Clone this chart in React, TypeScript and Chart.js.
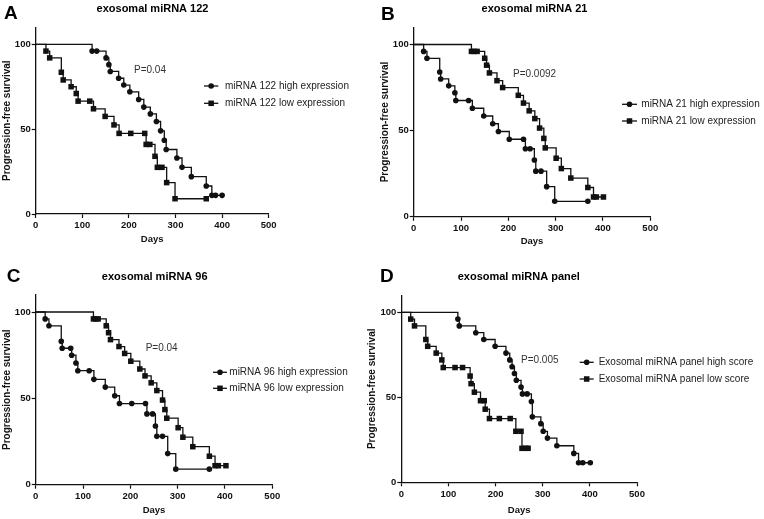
import React, { useEffect, useRef } from "react";
import { Chart, registerables } from "chart.js";

Chart.register(...registerables);

const FONT = '"Liberation Sans", Arial, Helvetica, sans-serif';
Chart.defaults.font.family = FONT;

// ---------- axis ticks ----------
const X_TICKS = [0, 100, 200, 300, 400, 500];
const Y_TICKS = [0, 50, 100];

// ---------- Panel A: exosomal miRNA 122 ----------
const aHighDays = [0, 121, 131, 151, 157, 160, 178, 189, 202, 221, 232, 246, 259, 268, 276, 280, 303, 314, 334, 366, 378, 386, 400];
const aHighSurv = [100, 96, 96, 92, 88, 84, 80, 76, 72, 67.5, 63, 59, 54.5, 49, 43.5, 38, 33, 27.5, 22, 16.5, 11, 11, 11];
const aLowDays = [0, 22, 30, 55, 59, 76, 87, 91, 116, 124, 149, 168, 179, 204, 234, 237, 245, 256, 261, 271, 281, 299, 366];
const aLowSurv = [100, 96, 92, 83.5, 79, 75, 71, 66.5, 66.5, 62, 57.5, 52.5, 47.5, 47.5, 47.5, 41, 41, 34, 27.5, 27.5, 18.5, 9, 9];

// ---------- Panel B: exosomal miRNA 21 ----------
const bHighDays = [0, 21, 28, 55, 57, 74, 87, 89, 116, 124, 148, 167, 179, 202, 232, 236, 246, 255, 258, 269, 281, 298, 368];
const bHighSurv = [100, 96, 92, 84, 80, 76, 72, 67.5, 67.5, 63, 58.5, 54, 49.5, 45, 45, 39.5, 39.5, 33, 26.5, 26.5, 17.5, 9, 9];
const bLowDays = [0, 122, 128, 134, 150, 154, 160, 176, 188, 221, 232, 244, 256, 266, 275, 278, 301, 312, 332, 368, 380, 386, 401];
const bLowSurv = [100, 96, 96, 96, 92, 88, 83.5, 79, 75, 70.5, 66, 61.5, 57, 51.5, 45.5, 40, 34, 28, 22.5, 17, 11.5, 11.5, 11.5];

// ---------- Panel C: exosomal miRNA 96 ----------
const cHighDays = [0, 20, 28, 54, 56, 74, 76, 85, 89, 113, 123, 147, 167, 177, 203, 232, 235, 247, 253, 256, 268, 279, 296, 367];
const cHighSurv = [100, 96, 92, 83, 79, 79, 75, 70.5, 66, 66, 61, 56.5, 51.5, 47, 47, 47, 41, 41, 34, 28, 28, 18, 9, 9];
const cLowDays = [0, 122, 127, 132, 149, 154, 158, 176, 188, 201, 220, 231, 244, 256, 268, 273, 277, 301, 311, 332, 367, 379, 386, 402];
const cLowSurv = [100, 96, 96, 96, 92, 88, 84, 80, 76, 71.5, 67, 63, 59, 54.5, 49, 43.5, 38.5, 33, 27.5, 22, 16.5, 11, 11, 11];

// ---------- Panel D: exosomal miRNA panel ----------
const dHighDays = [0, 120, 123, 158, 175, 199, 222, 230, 235, 240, 244, 254, 257, 267, 276, 278, 296, 301, 310, 330, 366, 376, 385, 401];
const dHighSurv = [100, 96, 92, 88, 84, 80, 76, 72, 68, 64, 60, 56, 52, 52, 47.5, 38.5, 34.5, 30, 26, 21.5, 17, 11.5, 11.5, 11.5];
const dLowDays = [0, 20, 28, 52, 56, 74, 86, 89, 114, 130, 146, 148, 155, 168, 176, 178, 187, 208, 231, 243, 254, 256, 264, 269];
const dLowSurv = [100, 96, 92, 84, 80, 76, 72, 67.5, 67.5, 67.5, 62.5, 58, 53, 48, 48, 43, 37.5, 37.5, 37.5, 30, 30, 20, 20, 20];

type Series = { label: string; days: number[]; surv: number[]; marker: "circle" | "rect" };

type Panel = {
  letter: string;
  title: string;
  pText: string;
  series: Series[];
  box: { l: number; t: number; w: number; h: number };
  plot: { x0: number; x1: number; y100: number; y0: number };
  yTitleX: number;
  xTitleY: number;
  letterPos: { x: number; base: number };
  titlePos: { cx: number; base: number };
  pPos: { x: number; cy: number };
  legend: { lx0: number; lx1: number; tx: number; rows: number[] };
};

const PANELS: Panel[] = [
  {
    letter: "A",
    title: "exosomal miRNA 122",
    pText: "P=0.04",
    series: [
      { label: "miRNA 122 high expression", days: aHighDays, surv: aHighSurv, marker: "circle" },
      { label: "miRNA 122 low expression", days: aLowDays, surv: aLowSurv, marker: "rect" },
    ],
    box: { l: 0, t: 0, w: 382, h: 259 },
    plot: { x0: 35.7, x1: 268.7, y100: 44.3, y0: 214 },
    yTitleX: 7.5,
    xTitleY: 239,
    letterPos: { x: 4, base: 19.3 },
    titlePos: { cx: 152.5, base: 12.3 },
    pPos: { x: 134, cy: 70.7 },
    legend: { lx0: 204, lx1: 218.3, tx: 225, rows: [86, 103.3] },
  },
  {
    letter: "B",
    title: "exosomal miRNA 21",
    pText: "P=0.0092",
    series: [
      { label: "miRNA 21 high expression", days: bHighDays, surv: bHighSurv, marker: "circle" },
      { label: "miRNA 21 low expression", days: bLowDays, surv: bLowSurv, marker: "rect" },
    ],
    box: { l: 376, t: 0, w: 388, h: 259 },
    plot: { x0: 413.7, x1: 650.3, y100: 44.5, y0: 216.8 },
    yTitleX: 385,
    xTitleY: 241.7,
    letterPos: { x: 381, base: 19.5 },
    titlePos: { cx: 534.5, base: 12.3 },
    pPos: { x: 513, cy: 74 },
    legend: { lx0: 622, lx1: 637, tx: 641.3, rows: [104.3, 121] },
  },
  {
    letter: "C",
    title: "exosomal miRNA 96",
    pText: "P=0.04",
    series: [
      { label: "miRNA 96 high expression", days: cHighDays, surv: cHighSurv, marker: "circle" },
      { label: "miRNA 96 low expression", days: cLowDays, surv: cLowSurv, marker: "rect" },
    ],
    box: { l: 0, t: 259, w: 382, h: 260 },
    plot: { x0: 35.7, x1: 272.3, y100: 312, y0: 484.7 },
    yTitleX: 7.3,
    xTitleY: 510.7,
    letterPos: { x: 6.7, base: 282.3 },
    titlePos: { cx: 154.7, base: 279.7 },
    pPos: { x: 145.7, cy: 348.3 },
    legend: { lx0: 213, lx1: 227, tx: 229.3, rows: [372.3, 388.3] },
  },
  {
    letter: "D",
    title: "exosomal miRNA panel",
    pText: "P=0.005",
    series: [
      { label: "Exosomal miRNA panel high score", days: dHighDays, surv: dHighSurv, marker: "circle" },
      { label: "Exosomal miRNA panel low score", days: dLowDays, surv: dLowSurv, marker: "rect" },
    ],
    box: { l: 364, t: 259, w: 400, h: 260 },
    plot: { x0: 401.3, x1: 637, y100: 312.3, y0: 482.3 },
    yTitleX: 372.3,
    xTitleY: 510.7,
    letterPos: { x: 380, base: 282.3 },
    titlePos: { cx: 518.8, base: 279.7 },
    pPos: { x: 521, cy: 360 },
    legend: { lx0: 579.7, lx1: 593.7, tx: 598.7, rows: [362.3, 379] },
  },
];

const INK = "#111111";
const CIRCLE_R = 2.8;
const RECT_R = 3.9;

function drawMarker(ctx: CanvasRenderingContext2D, kind: string, x: number, y: number) {
  ctx.beginPath();
  if (kind === "circle") {
    ctx.arc(x, y, CIRCLE_R, 0, Math.PI * 2);
  } else {
    const s = Math.SQRT1_2 * RECT_R;
    ctx.rect(x - s, y - s, 2 * s, 2 * s);
  }
  ctx.fill();
}

const decorPlugin = {
  id: "decor",
  afterDraw(chart: any, _args: any, opts: any) {
    const p: Panel = opts.panel;
    if (!p) return;
    const ctx: CanvasRenderingContext2D = chart.ctx;
    const ox = p.box.l;
    const oy = p.box.t;
    ctx.save();
    ctx.fillStyle = "#000";
    ctx.textAlign = "left";
    ctx.textBaseline = "alphabetic";
    ctx.font = `bold 19px ${FONT}`;
    ctx.fillText(p.letter, p.letterPos.x - ox, p.letterPos.base - oy);

    ctx.textAlign = "center";
    ctx.font = `bold 11px ${FONT}`;
    ctx.fillText(p.title, p.titlePos.cx - ox, p.titlePos.base - oy);

    ctx.textAlign = "left";
    ctx.textBaseline = "middle";
    ctx.font = `10px ${FONT}`;
    ctx.fillStyle = "#333";
    ctx.fillText(p.pText, p.pPos.x - ox, p.pPos.cy - oy);

    chart.data.datasets.forEach((ds: any, i: number) => {
      const y = p.legend.rows[i] - oy;
      ctx.strokeStyle = INK;
      ctx.lineWidth = 1.3;
      ctx.beginPath();
      ctx.moveTo(p.legend.lx0 - ox, y);
      ctx.lineTo(p.legend.lx1 - ox, y);
      ctx.stroke();
      ctx.fillStyle = INK;
      drawMarker(ctx, ds.pointStyle, (p.legend.lx0 + p.legend.lx1) / 2 - ox, y);
      ctx.fillStyle = "#222";
      ctx.font = `10px ${FONT}`;
      ctx.fillText(ds.label, p.legend.tx - ox, y);
    });
    ctx.restore();
  },
};

function buildConfig(p: Panel): any {
  const unit = (p.plot.y0 - p.plot.y100) / 100;
  const yTop = p.plot.y100 - 10 * unit;
  const yLH = 12;
  const xLH = 11.4;
  const datasets = p.series.map((s) => ({
    label: s.label,
    data: s.days.map((d, i) => ({ x: d, y: s.surv[i] })),
    stepped: "before",
    borderColor: INK,
    borderWidth: 1.3,
    backgroundColor: INK,
    pointStyle: s.marker,
    pointBackgroundColor: INK,
    pointBorderColor: INK,
    pointBorderWidth: 0,
    pointRadius: (c: any) => (c.dataIndex === 0 ? 0 : s.marker === "circle" ? CIRCLE_R : RECT_R),
    fill: false,
    clip: false,
  }));
  const tickFont = { family: FONT, size: 9.5, weight: "bold" as const };
  return {
    type: "line",
    data: { datasets },
    plugins: [decorPlugin],
    options: {
      animation: false,
      responsive: false,
      devicePixelRatio: 1,
      events: [],
      layout: {
        padding: {
          left: 0,
          top: yTop - p.box.t,
          right: p.box.l + p.box.w - p.plot.x1,
          bottom: 0,
        },
      },
      plugins: {
        legend: { display: false },
        title: { display: false },
        tooltip: { enabled: false },
        decor: { panel: p },
      },
      scales: {
        x: {
          type: "linear",
          min: 0,
          max: 500,
          afterBuildTicks: (s: any) => {
            s.ticks = X_TICKS.map((v) => ({ value: v }));
          },
          afterFit: (s: any) => {
            s.height = p.box.t + p.box.h - p.plot.y0;
          },
          ticks: { font: tickFont, color: INK, padding: 2, maxRotation: 0, autoSkip: false },
          grid: { drawOnChartArea: false, drawTicks: true, tickLength: 4, tickWidth: 1.2, tickColor: INK },
          border: { display: true, color: INK, width: 1.3 },
          title: {
            display: true,
            text: "Days",
            color: INK,
            font: { family: FONT, size: 9.5, weight: "bold" },
            padding: { top: 0, bottom: p.box.t + p.box.h - p.xTitleY - xLH / 2 },
          },
        },
        y: {
          type: "linear",
          min: 0,
          max: 110,
          afterBuildTicks: (s: any) => {
            s.ticks = Y_TICKS.map((v) => ({ value: v }));
          },
          afterFit: (s: any) => {
            s.width = p.plot.x0 - p.box.l;
          },
          ticks: { font: tickFont, color: INK, padding: 1 },
          grid: { drawOnChartArea: false, drawTicks: true, tickLength: 4, tickWidth: 1.2, tickColor: INK },
          border: { display: true, color: INK, width: 1.3 },
          title: {
            display: true,
            text: "Progression-free survival",
            color: INK,
            font: { family: FONT, size: 10, weight: "bold" },
            padding: { top: p.yTitleX - p.box.l - yLH / 2, bottom: 0 },
          },
        },
      },
    },
  };
}

function PanelChart({ p }: { p: Panel }) {
  const ref = useRef<HTMLCanvasElement | null>(null);
  useEffect(() => {
    if (!ref.current) return;
    const chart = new Chart(ref.current, buildConfig(p));
    return () => chart.destroy();
  }, [p]);
  return (
    <canvas
      ref={ref}
      width={p.box.w}
      height={p.box.h}
      style={{ position: "absolute", left: p.box.l, top: p.box.t, width: p.box.w, height: p.box.h }}
    />
  );
}

export default function App() {
  return (
    <div
      style={{
        position: "absolute",
        left: 0,
        top: 0,
        width: 764,
        height: 519,
        background: "#ffffff",
        overflow: "hidden",
      }}
    >
      {PANELS.map((p) => (
        <PanelChart key={p.letter} p={p} />
      ))}
    </div>
  );
}
